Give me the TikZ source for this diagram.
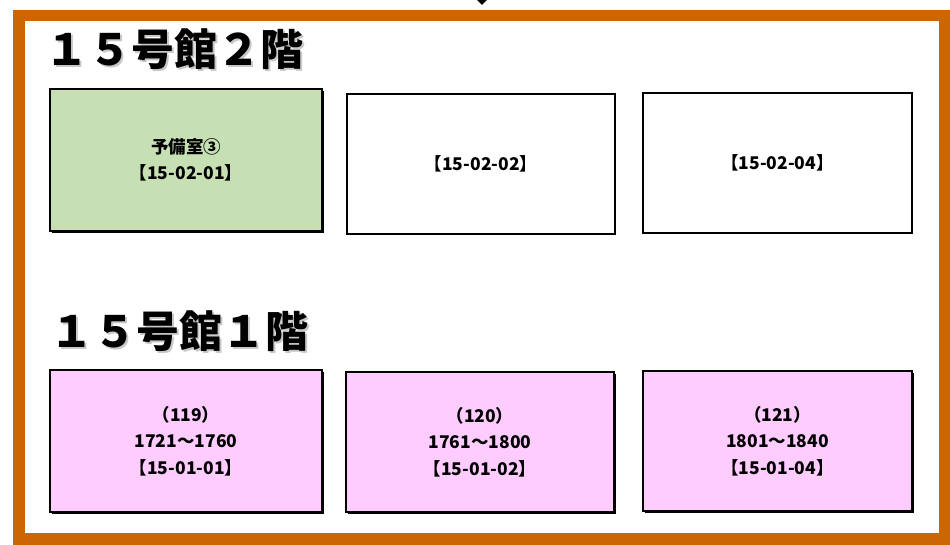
\documentclass[tikz,border=0pt]{standalone}
\usepackage{fontspec}
\usepackage{tikz}
\usetikzlibrary{shadows}
\newfontfamily\jpfont{Noto Sans CJK JP}
\definecolor{framebrown}{HTML}{CC6600}
\definecolor{roomgreen}{HTML}{C6E0B4}
\definecolor{roompink}{HTML}{FFCCFF}

\begin{document}
\begin{tikzpicture}[x=1pt,y=1pt]
\tikzset{room/.style = {shape=rectangle,draw,line width=1.2pt,align=center,
  font=\jpfont\bfseries\fontsize{17.5}{26.5}\selectfont}}
\tikzset{shade room/.style = {room,drop shadow={shadow xshift=2pt,shadow yshift=-2pt,fill=black,opacity=1}}}
\tikzset{floor/.style = {anchor=west,font=\jpfont\bfseries\fontsize{43}{43}\selectfont}}
\useasboundingbox (0,0) rectangle (950,545);
% frame
\fill[framebrown] (13,535) rectangle (950,0);
\fill[white] (25,524) rectangle (939,12);
\fill[black] (477,545) -- (487,545) -- (482,540) -- cycle;
% floor titles
\node[floor,text=black!30,opacity=0.7] at (44,494) {１５号館２階};
\node[floor] (f2) at (42,496) {１５号館２階};
\node[floor,text=black!30,opacity=0.7] at (49,212) {１５号館１階};
\node[floor] (f1) at (47,214) {１５号館１階};
% rooms, 2nd floor
\node[shade room,fill=roomgreen,minimum width=272,minimum height=142] (r201) at (186,385) {予備室③\\【15-02-01】};
\node[room,fill=white,minimum width=268,minimum height=140] (r202) at (481,381) {【15-02-02】};
\node[room,fill=white,minimum width=269,minimum height=140] (r204) at (777.5,382) {【15-02-04】};
% rooms, 1st floor
\node[shade room,fill=roompink,minimum width=272,minimum height=142] (r101) at (186,104) {（119）\\1721～1760\\【15-01-01】};
\node[shade room,fill=roompink,minimum width=268,minimum height=140] (r102) at (480,103) {（120）\\1761～1800\\【15-01-02】};
\node[shade room,fill=roompink,minimum width=269,minimum height=140] (r104) at (777.5,104) {（121）\\1801～1840\\【15-01-04】};
\end{tikzpicture}
\end{document}
